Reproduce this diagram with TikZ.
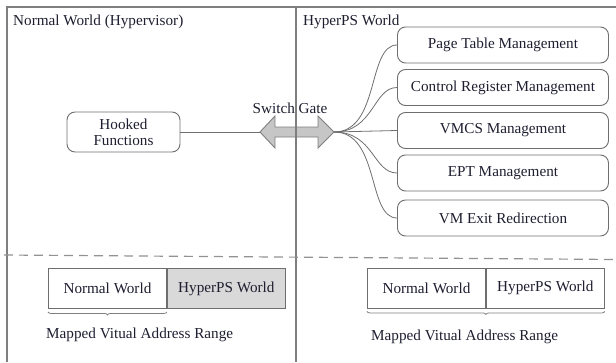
\documentclass[tikz,border=0pt]{standalone}
\usepackage{fontspec}
\setmainfont{Liberation Serif}
\usetikzlibrary{decorations.pathreplacing}
\definecolor{frame}{HTML}{7F7F7F}
\definecolor{boxline}{HTML}{6E6E6E}
\definecolor{txt}{HTML}{1E1E30}
\definecolor{fillg}{HTML}{D9D9D9}
\definecolor{arrfill}{HTML}{C6C6C6}
\tikzset{
  rbox/.style={draw=boxline, line width=0.9pt, rounded corners=8pt, text=txt, font=\fontsize{15.2}{17}\selectfont, align=center, inner sep=0pt},
  cell/.style={draw=boxline, line width=0.9pt, text=txt, font=\fontsize{15.2}{17}\selectfont, inner sep=0pt, minimum height=40pt},
  lbl/.style={text=txt, font=\fontsize{15.2}{17}\selectfont, inner sep=0pt},
  conn/.style={draw=boxline, line width=0.8pt},
  fr/.style={draw=frame, line width=1.2pt},
  brc/.style={draw=frame, line width=0.8pt, decorate, decoration={brace, mirror, amplitude=3pt}}
}
\begin{document}
\begin{tikzpicture}[x=1pt, y=-1pt]
\useasboundingbox (0,0) rectangle (616,362);
% titles
\node[lbl, anchor=west] (tnw) at (13,22) {Normal World (Hypervisor)};
\node[lbl, anchor=west] (thw) at (303,22) {HyperPS World};
% hooked functions
\node[rbox, minimum width=113pt, minimum height=40pt] (hook) at (123.5,132) {Hooked\\[-1pt]Functions};
% right boxes
\node[rbox, minimum width=211pt, minimum height=36pt] (ptm) at (503,45) {Page Table Management};
\node[rbox, minimum width=211pt, minimum height=36pt] (crm) at (503,87.5) {Control Register Management};
\node[rbox, minimum width=211pt, minimum height=36pt] (vmcs) at (503,130.5) {VMCS Management};
\node[rbox, minimum width=211pt, minimum height=36pt] (ept) at (503,173) {EPT Management};
\node[rbox, minimum width=211pt, minimum height=36pt] (vmx) at (503,218) {VM Exit Redirection};
% switch gate arrow
\coordinate (gl) at (260,132);
\coordinate (gr) at (334,132);
\draw[draw=frame, fill=arrfill, line width=0.9pt, line join=miter]
  (gl) -- (275,116) -- (275,127) -- (318,127) -- (318,116) -- (gr) -- (318,148) -- (318,137) -- (275,137) -- (275,148) -- cycle;
\node[lbl] (sg) at (290,108) {Switch Gate};
\draw[conn] (hook.east) -- (gl);
% connectors
\draw[conn] (gr) .. controls +(46,0) and +(-30,0) .. (ptm.west);
\draw[conn] (gr) .. controls +(40,0) and +(-24,0) .. (crm.west);
\draw[conn] (gr) -- (vmcs.west);
\draw[conn] (gr) .. controls +(40,0) and +(-24,0) .. (ept.west);
\draw[conn] (gr) .. controls +(46,0) and +(-30,0) .. (vmx.west);
% frame
\draw[fr] (7,362) -- (7,7) -- (616,7);
\draw[fr] (296,7) -- (296,362);
\draw[draw=frame!85, line width=1.2pt, dash pattern=on 9pt off 6pt] (4,255) -- (616,259.5);
% bottom left
\node[cell, fill=white, minimum width=118pt, anchor=west] (lnw) at (48,288.5) {Normal World};
\node[cell, fill=fillg, minimum width=118pt, anchor=west] (lhw) at (lnw.east) {HyperPS World};
\draw[brc] ([yshift=-3pt]lnw.south west) -- ([yshift=-3pt]lnw.south east);
\node[lbl, anchor=west] (lmr) at (46,335) {Mapped Vitual Address Range};
% bottom right
\node[cell, fill=white, minimum width=118pt, anchor=west] (rnw) at (367,288) {Normal World};
\node[cell, fill=white, minimum width=118pt, anchor=west] (rhw) at (rnw.east) {HyperPS World};
\draw[brc] ([yshift=-3pt]rnw.south west) -- ([yshift=-3pt]rhw.south east);
\node[lbl, anchor=west] (rmr) at (371,337) {Mapped Vitual Address Range};
\end{tikzpicture}
\end{document}
